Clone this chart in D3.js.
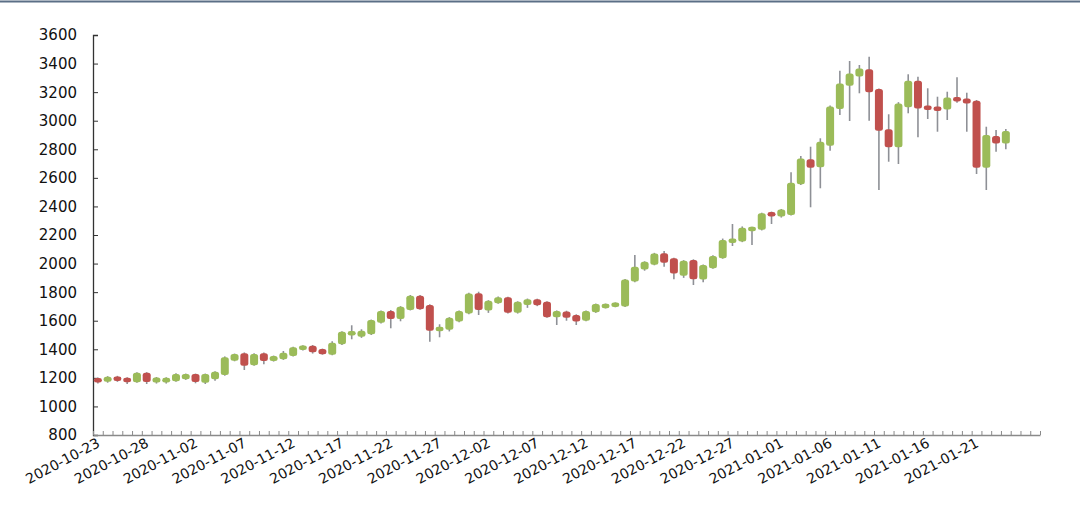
<!DOCTYPE html>
<html><head><meta charset="utf-8">
<script src="https://cdn.jsdelivr.net/npm/d3@7/dist/d3.min.js"></script>
<style>body{margin:0;background:#fff} svg{display:block}</style>
</head><body><svg id="c" width="1080" height="523"></svg>
<script>
const startDate = "2020-10-23";
const slotCount = 97;
const tickLabels = ["2020-10-23","2020-10-28","2020-11-02","2020-11-07","2020-11-12","2020-11-17","2020-11-22","2020-11-27","2020-12-02","2020-12-07","2020-12-12","2020-12-17","2020-12-22","2020-12-27","2021-01-01","2021-01-06","2021-01-11","2021-01-16","2021-01-21"];
const yTicks = [800,1000,1200,1400,1600,1800,2000,2200,2400,2600,2800,3000,3200,3400,3600];

const open  = [1199,1172,1210,1201,1170,1236,1168,1167,1176,1190,1227,1166,1190,1220,1320,1372,1288,1372,1318,1330,1353,1395,1425,1402,1362,1435,1498,1488,1505,1585,1668,1612,1675,1775,1710,1530,1537,1595,1650,1792,1672,1722,1764,1655,1710,1750,1733,1625,1665,1640,1600,1660,1690,1698,1700,1875,1958,1992,2072,2037,1915,2025,1888,1968,2038,2145,2155,2230,2237,2360,2330,2340,2555,2730,2675,2825,3082,3245,3310,3360,3222,2940,2815,3095,3280,3105,3098,3078,3162,3155,3140,2670,2893,2840];
const high  = [1202,1212,1214,1204,1240,1240,1206,1204,1232,1230,1230,1230,1246,1350,1370,1378,1372,1378,1356,1388,1418,1428,1430,1405,1456,1526,1568,1540,1608,1672,1675,1702,1780,1780,1715,1575,1625,1672,1795,1803,1744,1770,1768,1736,1755,1754,1736,1672,1670,1645,1672,1720,1720,1728,1892,2060,2016,2075,2088,2040,2024,2030,1994,2058,2175,2277,2260,2258,2356,2364,2382,2640,2753,2818,2877,3106,3350,3418,3390,3448,3225,3045,3130,3325,3308,3227,3168,3203,3304,3196,3145,2958,2935,2942];
const low   = [1160,1166,1172,1157,1165,1157,1160,1160,1172,1186,1162,1157,1180,1215,1316,1255,1284,1295,1314,1326,1350,1392,1370,1362,1358,1430,1470,1480,1500,1580,1547,1596,1672,1676,1453,1484,1525,1590,1646,1640,1655,1718,1650,1650,1690,1702,1620,1570,1600,1570,1596,1655,1686,1694,1696,1870,1950,1988,1978,1890,1900,1850,1870,1964,2034,2123,2150,2130,2232,2277,2322,2336,2550,2394,2527,2790,3040,2998,3192,3000,2515,2713,2697,3052,2884,3012,2923,3005,3126,2923,2627,2515,2783,2800];
const close = [1168,1208,1178,1169,1235,1171,1203,1201,1227,1227,1171,1227,1243,1344,1367,1285,1367,1318,1353,1376,1414,1425,1379,1366,1446,1522,1525,1530,1605,1668,1612,1698,1775,1680,1530,1555,1621,1668,1790,1675,1740,1764,1655,1733,1750,1708,1625,1668,1620,1595,1668,1717,1717,1724,1888,1978,2013,2070,2006,1930,2020,1890,1990,2053,2165,2175,2250,2255,2352,2330,2378,2566,2735,2670,2853,3100,3260,3330,3365,3200,2930,2815,3120,3280,3085,3078,3070,3162,3140,3120,2670,2900,2840,2928];

const fmt = d3.timeFormat("%Y-%m-%d");
const parse = d3.timeParse("%Y-%m-%d");
const t0 = parse(startDate);
const categories = d3.timeDay.range(t0, d3.timeDay.offset(t0, slotCount)).map(fmt);
const candles = open.map((o, i) => ({date: categories[i], o, h: high[i], l: low[i], c: close[i]}));

const svg = d3.select("#c");
const M = {left: 93, right: 1040, top: 35, bottom: 435};

const x = d3.scaleBand().domain(categories).range([M.left, M.right]).padding(0);
const y = d3.scaleLinear().domain([800, 3600]).range([M.bottom, M.top]);
const xi = d3.scaleLinear().domain([0, slotCount]).range([M.left, M.right]);

// top rule
svg.append("line").attr("x1", 0).attr("x2", 1080).attr("y1", 1.5).attr("y2", 1.5)
  .attr("stroke", "#5b6f86").attr("stroke-width", 2);

// y axis
const yAxis = svg.append("g").attr("transform", `translate(${M.left},0)`)
  .call(d3.axisRight(y).tickValues(yTicks).tickSize(5).tickFormat(""));
yAxis.select(".domain").attr("stroke", "#333").attr("stroke-width", 1.3);
yAxis.selectAll(".tick line").attr("stroke", "#333");
svg.append("g").selectAll("text").data(yTicks).join("text")
  .attr("x", 77).attr("y", d => y(d)).attr("dy", "0.36em")
  .attr("text-anchor", "end")
  .attr("font-family", "DejaVu Sans, Verdana, sans-serif").attr("font-size", 15)
  .attr("fill", "#111").text(d => d);

// x axis
const xAxis = svg.append("g").attr("transform", `translate(0,${M.bottom})`)
  .call(d3.axisTop(xi).tickValues(d3.range(0, slotCount + 1)).tickSize(4).tickSizeOuter(0).tickFormat(""));
xAxis.select(".domain").attr("stroke", "#8a8a8a").attr("stroke-width", 1.3);
xAxis.selectAll(".tick line").attr("stroke", "#8a8a8a");

svg.append("g").selectAll("text").data(tickLabels).join("text")
  .attr("transform", d => `translate(${x(d) + x.bandwidth() / 2 + 3},${M.bottom + 11}) rotate(-28)`)
  .attr("text-anchor", "end")
  .attr("font-family", "DejaVu Sans, Verdana, sans-serif").attr("font-size", 14)
  .attr("fill", "#111").text(d => d);

// candles
const bw = 8;
const g = svg.append("g");
const cg = g.selectAll("g").data(candles).join("g")
  .attr("transform", d => `translate(${x(d.date) + x.bandwidth() / 2},0)`);
cg.append("line").attr("y1", d => y(d.h)).attr("y2", d => y(d.l))
  .attr("stroke", "#8e9096").attr("stroke-width", 1.6);
cg.append("rect")
  .attr("x", -bw / 2).attr("width", bw)
  .attr("y", d => {
    const t = y(Math.max(d.o, d.c)), b = y(Math.min(d.o, d.c));
    return (b - t < 4.5) ? (t + b) / 2 - 2.25 : t;
  })
  .attr("height", d => Math.max(4.5, y(Math.min(d.o, d.c)) - y(Math.max(d.o, d.c))))
  .attr("rx", 2.5).attr("ry", 2.5)
  .attr("fill", d => d.c >= d.o ? "#9bbb59" : "#c0504d");
</script></body></html>
